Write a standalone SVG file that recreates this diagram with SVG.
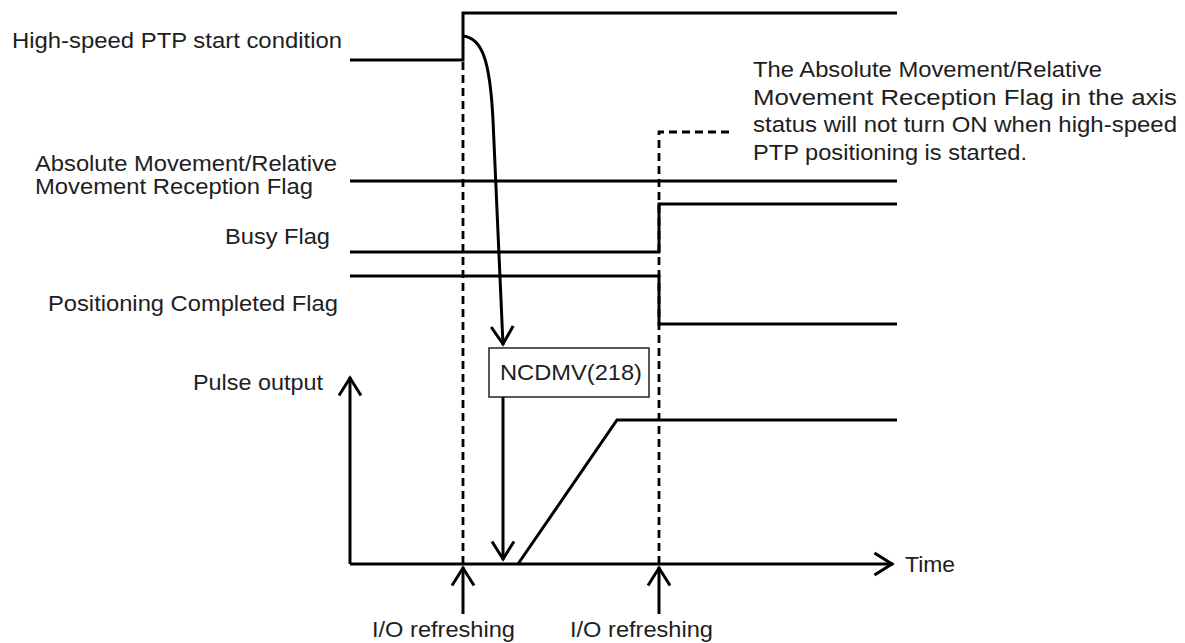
<svg xmlns="http://www.w3.org/2000/svg" width="1185" height="643" viewBox="0 0 1185 643">
<style>
.t{font-family:"Liberation Sans",Arial,sans-serif;font-size:21.5px;fill:#1e1e1e}
.s{fill:none;stroke:#000;stroke-width:3;stroke-linejoin:miter}
.d{fill:none;stroke:#000;stroke-width:2.8;stroke-dasharray:8 5}
.a{fill:none;stroke:#000;stroke-width:3;marker-end:url(#arr)}
</style>
<defs>
<marker id="arr" markerUnits="userSpaceOnUse" markerWidth="30" markerHeight="30" viewBox="-25 -15 30 30" refX="0" refY="0" orient="auto" overflow="visible">
<path d="M-18.5,-11 L-1,0 L-18.5,11" fill="none" stroke="#000" stroke-width="3"/>
</marker>
</defs>
<rect width="1185" height="643" fill="#fff"/>
<g id="labels">
<text class="t" x="12" y="47.5" textLength="330" lengthAdjust="spacingAndGlyphs">High-speed PTP start condition</text>
<text class="t" x="35" y="170.5" font-size="20.5" textLength="302" lengthAdjust="spacingAndGlyphs">Absolute Movement/Relative</text>
<text class="t" x="35" y="193.5" font-size="20.5" textLength="278" lengthAdjust="spacingAndGlyphs">Movement Reception Flag</text>
<text class="t" x="225" y="243.5" textLength="105" lengthAdjust="spacingAndGlyphs">Busy Flag</text>
<text class="t" x="48" y="310.5" textLength="290" lengthAdjust="spacingAndGlyphs">Positioning Completed Flag</text>
<text class="t" x="193" y="390" textLength="130" lengthAdjust="spacingAndGlyphs">Pulse output</text>
</g>
<g id="note">
<text class="t" x="753" y="77" textLength="349" lengthAdjust="spacingAndGlyphs">The Absolute Movement/Relative</text>
<text class="t" x="753" y="104.5" textLength="424" lengthAdjust="spacingAndGlyphs">Movement Reception Flag in the axis</text>
<text class="t" x="753" y="132" textLength="424" lengthAdjust="spacingAndGlyphs">status will not turn ON when high-speed</text>
<text class="t" x="753" y="159.5" textLength="274" lengthAdjust="spacingAndGlyphs">PTP positioning is started.</text>
</g>
<g id="signals">
<path id="start" class="s" d="M350,60 H463 V13 H897"/>
<path id="absflag" class="s" d="M350,181 H897"/>
<path id="busy" class="s" d="M350,252 H659 V204 H897"/>
<path id="poscomp" class="s" d="M350,276 H659 V324 H897"/>
<path id="pulse" class="s" d="M518,564 L617,420 H897"/>
</g>
<g id="ncdmv">
<rect x="489" y="348" width="160" height="49" fill="#fff" stroke="#222" stroke-width="1.5"/>
<text class="t" x="500" y="380" textLength="142" lengthAdjust="spacingAndGlyphs">NCDMV(218)</text>
</g>
<g id="connectors">
<path class="d" d="M463,62 V564"/>
<path class="d" d="M659,564 V132 H730"/>
<path class="a" d="M350,564 V377"/>
<path class="a" d="M350,564 H893"/>
<path class="a" d="M463,36 C482,38 490,60 493,120 L503,345"/>
<path class="a" d="M503,397 V560"/>
<path class="a" d="M463,614 V567"/>
<path class="a" d="M659,614 V567"/>
</g>
<g id="axislabels">
<text class="t" x="905" y="572" textLength="50" lengthAdjust="spacingAndGlyphs">Time</text>
<text class="t" x="372" y="637" textLength="143" lengthAdjust="spacingAndGlyphs">I/O refreshing</text>
<text class="t" x="570" y="637" textLength="143" lengthAdjust="spacingAndGlyphs">I/O refreshing</text>
</g>
</svg>
